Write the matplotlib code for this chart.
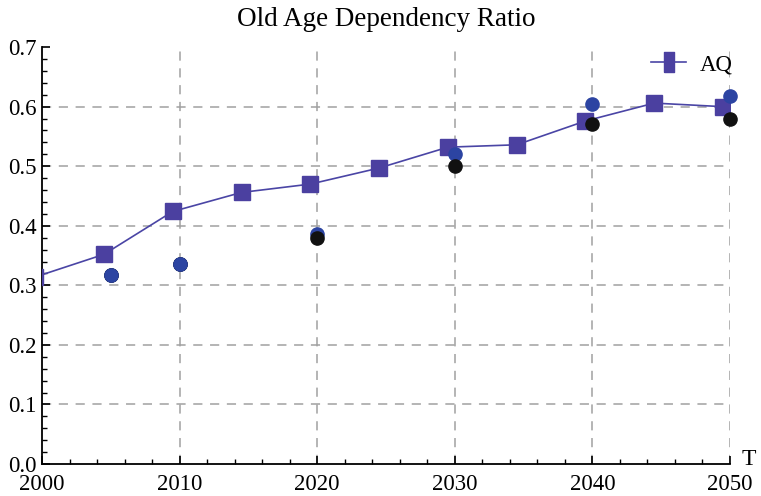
import matplotlib.pyplot as plt
from matplotlib.ticker import MultipleLocator
from matplotlib.lines import Line2D

plt.rcParams['font.family'] = ['Liberation Serif', 'DejaVu Serif']

# AQ line (squares)
aq_years = [1999.5, 2004.5, 2009.5, 2014.5, 2019.5, 2024.5, 2029.5, 2034.5, 2039.5, 2044.5, 2049.5]
aq_vals = [0.314, 0.352, 0.424, 0.456, 0.470, 0.497, 0.532, 0.536, 0.576, 0.606, 0.600]

# blue dots
blue_years = [2005, 2010, 2020, 2030, 2040, 2050]
blue_vals = [0.317, 0.336, 0.386, 0.520, 0.604, 0.618]

# black dots
black_years = [2005, 2010, 2020, 2030, 2040, 2050]
black_vals = [0.317, 0.336, 0.379, 0.501, 0.571, 0.579]

fig = plt.figure(figsize=(7.61, 4.96), dpi=100)
ax = fig.add_axes([0.0552, 0.0645, 0.9040, 0.8405])

# grid lines (dashed)
for yv in [0.1, 0.2, 0.3, 0.4, 0.5, 0.6]:
    ax.axhline(yv, color='#a0a0a0', ls=(0, (6, 5)), lw=1.1, zorder=0)
for xv in [2010, 2020, 2030, 2040, 2050]:
    ax.axvline(xv, color='#a0a0a0', ls=(0, (6, 5)), lw=1.1, zorder=0)

ax.plot(aq_years, aq_vals, color='#4a45a5', lw=1.2, marker='s', ms=11,
        mfc='#4b40a0', mec='#4b40a0', zorder=3)
ax.plot(blue_years, blue_vals, 'o', ms=9.5, color='#2c44a2', ls='none', zorder=4, clip_on=False)
ax.plot(black_years, black_vals, 'o', ms=9.5, color='#111111', ls='none', zorder=5, clip_on=False)
# blue drawn on top at points where they coincide
ax.plot(blue_years[:2], blue_vals[:2], 'o', ms=9.5, color='#2c44a2', ls='none', zorder=6)

ax.set_xlim(2000, 2050)
ax.set_ylim(0, 0.7)
ax.xaxis.set_major_locator(MultipleLocator(10))
ax.xaxis.set_minor_locator(MultipleLocator(2))
ax.yaxis.set_major_locator(MultipleLocator(0.1))
ax.yaxis.set_minor_locator(MultipleLocator(0.02))
ax.yaxis.set_major_formatter(plt.FuncFormatter(lambda v, p: '%.1f' % v))

ax.spines['top'].set_visible(False)
ax.spines['right'].set_visible(False)
ax.spines['left'].set_linewidth(1.3)
ax.spines['bottom'].set_linewidth(1.3)
ax.tick_params(which='major', direction='in', length=6, width=1.2, labelsize=16.5)
ax.tick_params(which='minor', direction='in', length=3.5, width=1.0)
ax.tick_params(axis='x', pad=7)
ax.tick_params(axis='y', pad=4)

ax.text(1.017, 0.012, 'T', transform=ax.transAxes, fontsize=17, va='center', ha='left')
ax.set_title('Old Age Dependency Ratio', fontsize=19.5, pad=15)

# legend handle: tall rectangle with a line through it
rect = [(-0.5, -1), (0.5, -1), (0.5, 1), (-0.5, 1), (-0.5, -1)]
handle = Line2D([], [], color='#4a45a5', lw=1.2, marker=rect, ms=14.5,
                mfc='#4b40a0', mec='#4b40a0')
ax.legend([handle], ['AQ'], loc='center left', bbox_to_anchor=(0.885, 0.958), frameon=False,
          fontsize=16.5, handlelength=1.55, handletextpad=0.6, borderpad=0, borderaxespad=0)

fig.savefig('out.png', dpi=100)
